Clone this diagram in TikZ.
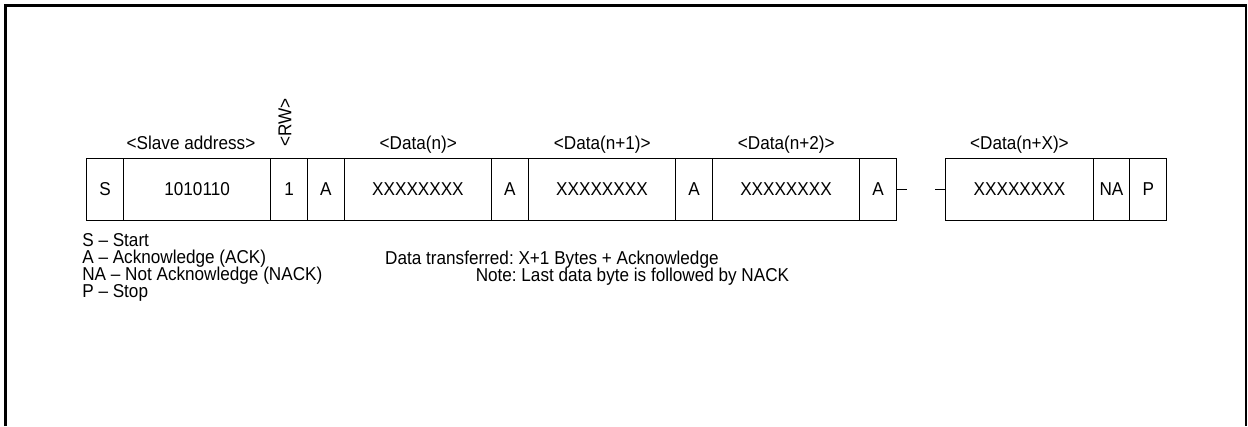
\documentclass[tikz,border=0pt]{standalone}
\usepackage{fontspec}
\setmainfont{Liberation Sans}[FakeStretch=0.92]
\usetikzlibrary{positioning}

\newcommand{\schrift}{\fontsize{14.4}{13.15}\selectfont\lineskiplimit=-20pt\frenchspacing\relax}

\begin{document}
\begin{tikzpicture}[
	zelle/.style={draw, line width=0.7pt, outer sep=0pt, inner sep=0pt, minimum height=1.671cm, minimum width=1cm, font=\schrift},
	breit/.style={zelle, minimum width=4cm},
	beschr/.style={inner sep=0pt, font=\schrift}
	]
	
	\useasboundingbox (0,0) rectangle (33.91,-11.576);
	
	%Rahmen
	\draw[line width=1.6pt] (0.15,-11.576) -- (0.15,-0.15) -- (33.86,-0.15) -- (33.86,-11.576);
	
	%Zellen der Uebertragung
	\node[zelle, anchor=north west] (S) at (2.356,-4.307) {S};
	\node[breit, right=0pt of S] (adr) {1010110};
	\node[zelle, right=0pt of adr] (rw) {1};
	\node[zelle, right=0pt of rw] (a1) {A};
	\node[breit, right=0pt of a1] (d1) {XXXXXXXX};
	\node[zelle, right=0pt of d1] (a2) {A};
	\node[breit, right=0pt of a2] (d2) {XXXXXXXX};
	\node[zelle, right=0pt of d2] (a3) {A};
	\node[breit, right=0pt of a3] (d3) {XXXXXXXX};
	\node[zelle, right=0pt of d3] (a4) {A};
	\node[breit, right=1.344cm of a4] (dx) {XXXXXXXX};
	\node[zelle, right=0pt of dx] (na) {NA};
	\node[zelle, right=0pt of na] (P) {P};
	
	%Unterbrechung
	\coordinate[right=0.28cm of a4] (luecke1);
	\coordinate[left=0.29cm of dx] (luecke2);
	\draw[line width=0.7pt] (a4) -- (luecke1);
	\draw[line width=0.7pt] (luecke2) -- (dx);
	
	%Beschriftungen oben
	\node[beschr, anchor=base] (ladr) at (5.19,-4.06) {<Slave address>};
	\node[beschr, rotate=90] (lrw) at (7.745,-3.33) {<RW>};
	\node[beschr, anchor=base] (ld1) at (11.364,-4.06) {<Data(n)>};
	\node[beschr, anchor=base] (ld2) at (16.364,-4.06) {<Data(n+1)>};
	\node[beschr, anchor=base] (ld3) at (21.364,-4.06) {<Data(n+2)>};
	\node[beschr, anchor=base] (ldx) at (27.70,-4.06) {<Data(n+X)>};
	
	%Legende
	\node[beschr, anchor=north west, align=left] (legende) at (2.23,-6.33) {S -- Start\\A -- Acknowledge (ACK)\\NA -- Not Acknowledge (NACK)\\P -- Stop};
	\node[beschr, anchor=north west, align=left] (info) at (10.46,-6.80) {Data transferred: X+1 Bytes + Acknowledge\\\hspace*{70pt}Note: Last data byte is followed by NACK};
	
\end{tikzpicture}
\end{document}
